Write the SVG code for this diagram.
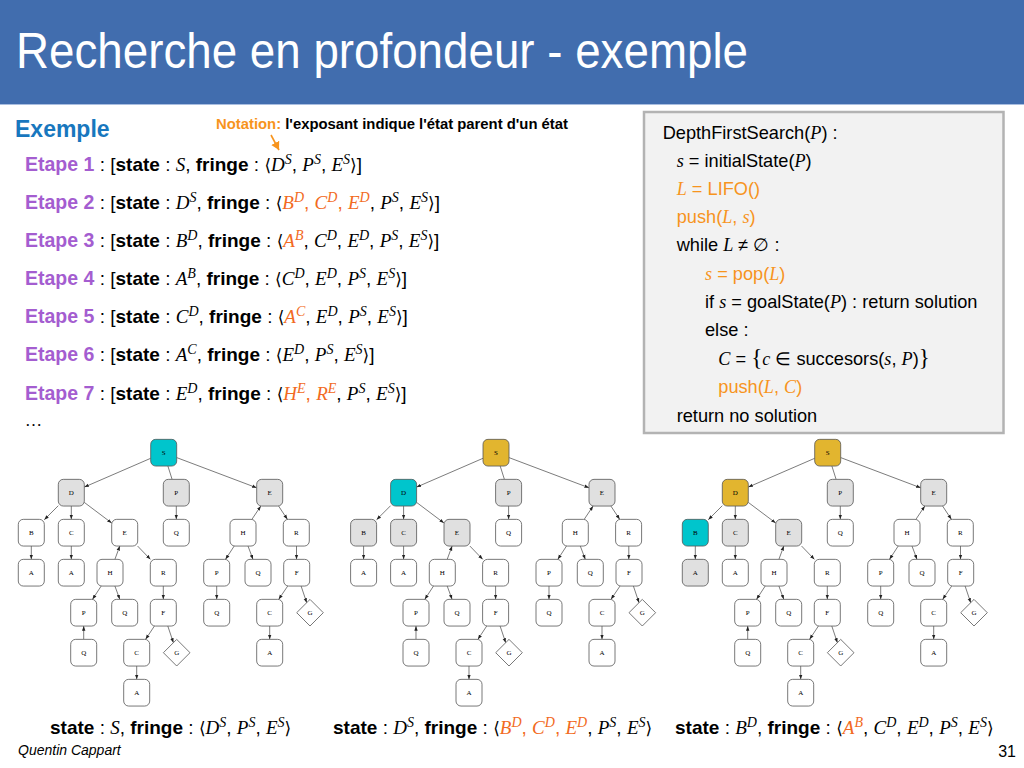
<svg xmlns="http://www.w3.org/2000/svg" xmlns:xlink="http://www.w3.org/1999/xlink" width="1024" height="768" viewBox="0 0 1024 768">
<style>
  text { font-family: "Liberation Sans", Arial, sans-serif; fill: #000; }
  .m { font-family: "Liberation Serif", "DejaVu Serif", serif; font-style: italic; }
  .u { font-family: "Liberation Serif", "DejaVu Serif", serif; }
  .br { font-family: "DejaVu Serif", serif; font-size: 17px; }
  .b { font-weight: bold; }
  .sup { font-family: "Liberation Serif", serif; font-style: italic; font-size: 14px; }
  .et { fill: #A45DD0; font-weight: bold; font-size: 19.5px; }
  .or { fill: #F26A22; }
  .og { fill: #F7941D; }
  .ln { font-size: 19px; }
  .code { font-size: 18.2px; }
  .nd rect, .nd path { stroke: #555; stroke-width: 0.8; fill: #fff; }
  .nd text { font-family: "Liberation Serif", serif; font-size: 7px; text-anchor: middle; }
  .gr rect { fill: #E0E0E0; }
  .cy rect { fill: #00C5CC; }
  .au rect { fill: #E2B52F; }
  .edges line { stroke: #444; stroke-width: 0.7; }
  .edges line.a { marker-end: url(#ah); }
</style>
<defs>
  <marker id="ah" markerUnits="userSpaceOnUse" markerWidth="6" markerHeight="6" viewBox="0 0 6 6" refX="4.6" refY="3" orient="auto">
    <path d="M0,1.3 L4.6,3 L0,4.7 Z" fill="#222"/>
  </marker>
  <marker id="oh" markerUnits="userSpaceOnUse" markerWidth="12" markerHeight="12" viewBox="0 0 12 12" refX="8" refY="6" orient="auto">
    <path d="M0,1.5 L8,6 L0,10.5 Z" fill="#F7941D"/>
  </marker>
</defs>

<rect width="1024" height="768" fill="#fff"/>

<!-- title band -->
<rect x="0" y="0" width="1024" height="104" fill="#416DAE"/>
<line x1="0" y1="104.5" x2="1024" y2="104.5" stroke="#A9BEE0" stroke-width="1"/>
<text x="16" y="68" font-size="50" style="fill:#fff" textLength="732" lengthAdjust="spacingAndGlyphs">Recherche en profondeur - exemple</text>

<!-- example heading and notation -->
<text x="15" y="137" font-size="23" class="b" style="fill:#1877BE">Exemple</text>
<text x="216" y="129" font-size="14" class="b" textLength="352" lengthAdjust="spacingAndGlyphs"><tspan class="og">Notation:</tspan> l'exposant indique l'état parent d'un état</text>
<line x1="271" y1="135" x2="279" y2="150" stroke="#F7941D" stroke-width="1.6" marker-end="url(#oh)"/>

<!-- steps -->
<text x="25" y="171" class="ln"><tspan class="et">Etape 1</tspan> : [<tspan class="b">state</tspan> : <tspan class="m">S</tspan>, <tspan class="b">fringe</tspan> : <tspan class="br">⟨</tspan><tspan class="m">D</tspan><tspan class="sup" dy="-7">S</tspan><tspan dy="7">, </tspan><tspan class="m">P</tspan><tspan class="sup" dy="-7">S</tspan><tspan dy="7">, </tspan><tspan class="m">E</tspan><tspan class="sup" dy="-7">S</tspan><tspan class="br" dy="7">⟩</tspan>]</text>

<text x="25" y="209" class="ln"><tspan class="et">Etape 2</tspan> : [<tspan class="b">state</tspan> : <tspan class="m">D</tspan><tspan class="sup" dy="-7">S</tspan><tspan dy="7">, </tspan><tspan class="b">fringe</tspan> : <tspan class="br">⟨</tspan><tspan class="m or">B</tspan><tspan class="sup or" dy="-7">D</tspan><tspan class="or" dy="7">, </tspan><tspan class="m or">C</tspan><tspan class="sup or" dy="-7">D</tspan><tspan class="or" dy="7">, </tspan><tspan class="m or">E</tspan><tspan class="sup or" dy="-7">D</tspan><tspan dy="7">, </tspan><tspan class="m">P</tspan><tspan class="sup" dy="-7">S</tspan><tspan dy="7">, </tspan><tspan class="m">E</tspan><tspan class="sup" dy="-7">S</tspan><tspan class="br" dy="7">⟩</tspan>]</text>

<text x="25" y="247" class="ln"><tspan class="et">Etape 3</tspan> : [<tspan class="b">state</tspan> : <tspan class="m">B</tspan><tspan class="sup" dy="-7">D</tspan><tspan dy="7">, </tspan><tspan class="b">fringe</tspan> : <tspan class="br">⟨</tspan><tspan class="m or">A</tspan><tspan class="sup or" dy="-7">B</tspan><tspan dy="7">, </tspan><tspan class="m">C</tspan><tspan class="sup" dy="-7">D</tspan><tspan dy="7">, </tspan><tspan class="m">E</tspan><tspan class="sup" dy="-7">D</tspan><tspan dy="7">, </tspan><tspan class="m">P</tspan><tspan class="sup" dy="-7">S</tspan><tspan dy="7">, </tspan><tspan class="m">E</tspan><tspan class="sup" dy="-7">S</tspan><tspan class="br" dy="7">⟩</tspan>]</text>

<text x="25" y="285" class="ln"><tspan class="et">Etape 4</tspan> : [<tspan class="b">state</tspan> : <tspan class="m">A</tspan><tspan class="sup" dy="-7">B</tspan><tspan dy="7">, </tspan><tspan class="b">fringe</tspan> : <tspan class="br">⟨</tspan><tspan class="m">C</tspan><tspan class="sup" dy="-7">D</tspan><tspan dy="7">, </tspan><tspan class="m">E</tspan><tspan class="sup" dy="-7">D</tspan><tspan dy="7">, </tspan><tspan class="m">P</tspan><tspan class="sup" dy="-7">S</tspan><tspan dy="7">, </tspan><tspan class="m">E</tspan><tspan class="sup" dy="-7">S</tspan><tspan class="br" dy="7">⟩</tspan>]</text>

<text x="25" y="323" class="ln"><tspan class="et">Etape 5</tspan> : [<tspan class="b">state</tspan> : <tspan class="m">C</tspan><tspan class="sup" dy="-7">D</tspan><tspan dy="7">, </tspan><tspan class="b">fringe</tspan> : <tspan class="br">⟨</tspan><tspan class="m or">A</tspan><tspan class="sup or" dy="-7">C</tspan><tspan dy="7">, </tspan><tspan class="m">E</tspan><tspan class="sup" dy="-7">D</tspan><tspan dy="7">, </tspan><tspan class="m">P</tspan><tspan class="sup" dy="-7">S</tspan><tspan dy="7">, </tspan><tspan class="m">E</tspan><tspan class="sup" dy="-7">S</tspan><tspan class="br" dy="7">⟩</tspan>]</text>

<text x="25" y="361" class="ln"><tspan class="et">Etape 6</tspan> : [<tspan class="b">state</tspan> : <tspan class="m">A</tspan><tspan class="sup" dy="-7">C</tspan><tspan dy="7">, </tspan><tspan class="b">fringe</tspan> : <tspan class="br">⟨</tspan><tspan class="m">E</tspan><tspan class="sup" dy="-7">D</tspan><tspan dy="7">, </tspan><tspan class="m">P</tspan><tspan class="sup" dy="-7">S</tspan><tspan dy="7">, </tspan><tspan class="m">E</tspan><tspan class="sup" dy="-7">S</tspan><tspan class="br" dy="7">⟩</tspan>]</text>

<text x="25" y="400" class="ln"><tspan class="et">Etape 7</tspan> : [<tspan class="b">state</tspan> : <tspan class="m">E</tspan><tspan class="sup" dy="-7">D</tspan><tspan dy="7">, </tspan><tspan class="b">fringe</tspan> : <tspan class="br">⟨</tspan><tspan class="m or">H</tspan><tspan class="sup or" dy="-7">E</tspan><tspan class="or" dy="7">, </tspan><tspan class="m or">R</tspan><tspan class="sup or" dy="-7">E</tspan><tspan dy="7">, </tspan><tspan class="m">P</tspan><tspan class="sup" dy="-7">S</tspan><tspan dy="7">, </tspan><tspan class="m">E</tspan><tspan class="sup" dy="-7">S</tspan><tspan class="br" dy="7">⟩</tspan>]</text>

<text x="25" y="426" font-size="17" class="u">…</text>

<!-- pseudocode box -->
<rect x="644" y="112" width="359.5" height="321" fill="#F2F2F2" stroke="#B3B3B3" stroke-width="2.5"/>
<g class="code">
  <text x="662.7" y="138.7" class="code">DepthFirstSearch(<tspan class="m">P</tspan>) :</text>
  <text x="676.7" y="167.3" class="code"><tspan class="m">s</tspan> = initialState(<tspan class="m">P</tspan>)</text>
  <text x="676.7" y="195.3" class="code og"><tspan class="m og">L</tspan> = LIFO()</text>
  <text x="676.7" y="223.3" class="code og">push(<tspan class="m og">L</tspan>, <tspan class="m og">s</tspan>)</text>
  <text x="676.7" y="251.3" class="code">while <tspan class="m">L</tspan> ≠ ∅ :</text>
  <text x="705" y="279.7" class="code og"><tspan class="m og">s</tspan> = pop(<tspan class="m og">L</tspan>)</text>
  <text x="705" y="308" class="code">if <tspan class="m">s</tspan> = goalState(<tspan class="m">P</tspan>) : return solution</text>
  <text x="705" y="336.3" class="code">else :</text>
  <text x="718.3" y="364.7" class="code"><tspan class="m">C</tspan> = <tspan class="u" font-size="23">{</tspan><tspan class="m">c</tspan> ∈ succesors(<tspan class="m">s</tspan>, <tspan class="m">P</tspan>)<tspan class="u" font-size="23">}</tspan></text>
  <text x="718.3" y="393" class="code og">push(<tspan class="m og">L</tspan>, <tspan class="m og">C</tspan>)</text>
  <text x="676.7" y="422" class="code">return no solution</text>
</g>

<!-- connectors of the three search trees -->
<g id="connectors">
  <g id="edges-t1" class="edges">
    <line class="a" x1="150.7" y1="458.3" x2="84.3" y2="487.1"/>
    <line x1="167.9" y1="466.05" x2="172.1" y2="479.35"/>
    <line class="a" x1="176.7" y1="457.6" x2="256.7" y2="487.8"/>
    <line class="a" x1="58.3" y1="505.7" x2="44.3" y2="519.7"/>
    <line class="a" x1="71.3" y1="506.05" x2="71.3" y2="519.35"/>
    <line class="a" x1="84.3" y1="502.4" x2="111.7" y2="523"/>
    <line class="a" x1="176.3" y1="506.05" x2="176.3" y2="519.35"/>
    <line class="a" x1="251.9" y1="519.35" x2="260.8" y2="506.05"/>
    <line class="a" x1="278.6" y1="506.05" x2="287.4" y2="519.35"/>
    <line class="a" x1="31.3" y1="546.05" x2="31.3" y2="559.35"/>
    <line class="a" x1="71.3" y1="546.05" x2="71.3" y2="559.35"/>
    <line class="a" x1="114.9" y1="559.35" x2="119.8" y2="546.05"/>
    <line class="a" x1="137.6" y1="546.05" x2="150.4" y2="559.35"/>
    <line class="a" x1="234.2" y1="546.05" x2="225.5" y2="559.35"/>
    <line class="a" x1="248" y1="546.05" x2="253" y2="559.35"/>
    <line class="a" x1="296.5" y1="546.05" x2="296.5" y2="559.35"/>
    <line class="a" x1="101.2" y1="586.05" x2="92.5" y2="599.35"/>
    <line class="a" x1="114.9" y1="586.05" x2="119.8" y2="599.35"/>
    <line class="a" x1="163.3" y1="586.05" x2="163.3" y2="599.35"/>
    <line class="a" x1="216.7" y1="586.05" x2="216.7" y2="599.35"/>
    <line class="a" x1="287.7" y1="586.05" x2="278.7" y2="599.35"/>
    <line class="a" x1="301.1" y1="586.05" x2="306.7" y2="602.7"/>
    <line class="a" x1="83.7" y1="639.35" x2="83.7" y2="626.05"/>
    <line class="a" x1="154.4" y1="626.05" x2="145.6" y2="639.35"/>
    <line class="a" x1="167.8" y1="626.05" x2="173.4" y2="642.7"/>
    <line class="a" x1="269.7" y1="626.05" x2="269.7" y2="639.35"/>
    <line class="a" x1="136.7" y1="666.05" x2="136.7" y2="679.35"/>
  </g>
  <use xlink:href="#edges-t1" href="#edges-t1" transform="translate(332.3 0)"/>
  <use xlink:href="#edges-t1" href="#edges-t1" transform="translate(664 0)"/>
</g>

<!-- tree 1 : S being expanded -->
<g id="tree1">
  <g id="t1-S" class="nd cy" transform="translate(163.7 452.7)"><rect x="-13" y="-13.35" width="26" height="26.7" rx="5"/><text y="2.5">S</text></g>
  <g id="t1-D" class="nd gr" transform="translate(71.3 492.7)"><rect x="-13" y="-13.35" width="26" height="26.7" rx="5"/><text y="2.5">D</text></g>
  <g id="t1-P" class="nd gr" transform="translate(176.3 492.7)"><rect x="-13" y="-13.35" width="26" height="26.7" rx="5"/><text y="2.5">P</text></g>
  <g id="t1-E" class="nd gr" transform="translate(269.7 492.7)"><rect x="-13" y="-13.35" width="26" height="26.7" rx="5"/><text y="2.5">E</text></g>
  <g id="t1-DB" class="nd" transform="translate(31.3 532.7)"><rect x="-13" y="-13.35" width="26" height="26.7" rx="5"/><text y="2.5">B</text></g>
  <g id="t1-DC" class="nd" transform="translate(71.3 532.7)"><rect x="-13" y="-13.35" width="26" height="26.7" rx="5"/><text y="2.5">C</text></g>
  <g id="t1-DE" class="nd" transform="translate(124.7 532.7)"><rect x="-13" y="-13.35" width="26" height="26.7" rx="5"/><text y="2.5">E</text></g>
  <g id="t1-PQ" class="nd" transform="translate(176.3 532.7)"><rect x="-13" y="-13.35" width="26" height="26.7" rx="5"/><text y="2.5">Q</text></g>
  <g id="t1-EH" class="nd" transform="translate(243 532.7)"><rect x="-13" y="-13.35" width="26" height="26.7" rx="5"/><text y="2.5">H</text></g>
  <g id="t1-ER" class="nd" transform="translate(296.3 532.7)"><rect x="-13" y="-13.35" width="26" height="26.7" rx="5"/><text y="2.5">R</text></g>
  <g id="t1-DBA" class="nd" transform="translate(31.3 572.7)"><rect x="-13" y="-13.35" width="26" height="26.7" rx="5"/><text y="2.5">A</text></g>
  <g id="t1-DCA" class="nd" transform="translate(71.3 572.7)"><rect x="-13" y="-13.35" width="26" height="26.7" rx="5"/><text y="2.5">A</text></g>
  <g id="t1-DEH" class="nd" transform="translate(110 572.7)"><rect x="-13" y="-13.35" width="26" height="26.7" rx="5"/><text y="2.5">H</text></g>
  <g id="t1-DER" class="nd" transform="translate(163.3 572.7)"><rect x="-13" y="-13.35" width="26" height="26.7" rx="5"/><text y="2.5">R</text></g>
  <g id="t1-EHP" class="nd" transform="translate(216.7 572.7)"><rect x="-13" y="-13.35" width="26" height="26.7" rx="5"/><text y="2.5">P</text></g>
  <g id="t1-EHQ" class="nd" transform="translate(258 572.7)"><rect x="-13" y="-13.35" width="26" height="26.7" rx="5"/><text y="2.5">Q</text></g>
  <g id="t1-ERF" class="nd" transform="translate(296.7 572.7)"><rect x="-13" y="-13.35" width="26" height="26.7" rx="5"/><text y="2.5">F</text></g>
  <g id="t1-DEHP" class="nd" transform="translate(83.7 612.7)"><rect x="-13" y="-13.35" width="26" height="26.7" rx="5"/><text y="2.5">P</text></g>
  <g id="t1-DEHQ" class="nd" transform="translate(124.7 612.7)"><rect x="-13" y="-13.35" width="26" height="26.7" rx="5"/><text y="2.5">Q</text></g>
  <g id="t1-DERF" class="nd" transform="translate(163.3 612.7)"><rect x="-13" y="-13.35" width="26" height="26.7" rx="5"/><text y="2.5">F</text></g>
  <g id="t1-EHPQ" class="nd" transform="translate(216.7 612.7)"><rect x="-13" y="-13.35" width="26" height="26.7" rx="5"/><text y="2.5">Q</text></g>
  <g id="t1-ERFC" class="nd" transform="translate(269.7 612.7)"><rect x="-13" y="-13.35" width="26" height="26.7" rx="5"/><text y="2.5">C</text></g>
  <g id="t1-ERFG" class="nd" transform="translate(310 612.7)"><path d="M0,-13.3 L13.3,0 L0,13.3 L-13.3,0 Z"/><text y="2.5">G</text></g>
  <g id="t1-DEHPQ" class="nd" transform="translate(83.7 652.7)"><rect x="-13" y="-13.35" width="26" height="26.7" rx="5"/><text y="2.5">Q</text></g>
  <g id="t1-DERFC" class="nd" transform="translate(136.7 652.7)"><rect x="-13" y="-13.35" width="26" height="26.7" rx="5"/><text y="2.5">C</text></g>
  <g id="t1-DERFG" class="nd" transform="translate(176.7 652.7)"><path d="M0,-13.3 L13.3,0 L0,13.3 L-13.3,0 Z"/><text y="2.5">G</text></g>
  <g id="t1-ERFCA" class="nd" transform="translate(269.7 652.7)"><rect x="-13" y="-13.35" width="26" height="26.7" rx="5"/><text y="2.5">A</text></g>
  <g id="t1-DERFCA" class="nd" transform="translate(136.7 692.7)"><rect x="-13" y="-13.35" width="26" height="26.7" rx="5"/><text y="2.5">A</text></g>
</g>

<!-- tree 2 : D being expanded -->
<g id="tree2" transform="translate(332.3 0)">
  <g id="t2-S" class="nd au" transform="translate(163.7 452.7)"><rect x="-13" y="-13.35" width="26" height="26.7" rx="5"/><text y="2.5">S</text></g>
  <g id="t2-D" class="nd cy" transform="translate(71.3 492.7)"><rect x="-13" y="-13.35" width="26" height="26.7" rx="5"/><text y="2.5">D</text></g>
  <g id="t2-P" class="nd gr" transform="translate(176.3 492.7)"><rect x="-13" y="-13.35" width="26" height="26.7" rx="5"/><text y="2.5">P</text></g>
  <g id="t2-E" class="nd gr" transform="translate(269.7 492.7)"><rect x="-13" y="-13.35" width="26" height="26.7" rx="5"/><text y="2.5">E</text></g>
  <g id="t2-DB" class="nd gr" transform="translate(31.3 532.7)"><rect x="-13" y="-13.35" width="26" height="26.7" rx="5"/><text y="2.5">B</text></g>
  <g id="t2-DC" class="nd gr" transform="translate(71.3 532.7)"><rect x="-13" y="-13.35" width="26" height="26.7" rx="5"/><text y="2.5">C</text></g>
  <g id="t2-DE" class="nd gr" transform="translate(124.7 532.7)"><rect x="-13" y="-13.35" width="26" height="26.7" rx="5"/><text y="2.5">E</text></g>
  <g id="t2-PQ" class="nd" transform="translate(176.3 532.7)"><rect x="-13" y="-13.35" width="26" height="26.7" rx="5"/><text y="2.5">Q</text></g>
  <g id="t2-EH" class="nd" transform="translate(243 532.7)"><rect x="-13" y="-13.35" width="26" height="26.7" rx="5"/><text y="2.5">H</text></g>
  <g id="t2-ER" class="nd" transform="translate(296.3 532.7)"><rect x="-13" y="-13.35" width="26" height="26.7" rx="5"/><text y="2.5">R</text></g>
  <g id="t2-DBA" class="nd" transform="translate(31.3 572.7)"><rect x="-13" y="-13.35" width="26" height="26.7" rx="5"/><text y="2.5">A</text></g>
  <g id="t2-DCA" class="nd" transform="translate(71.3 572.7)"><rect x="-13" y="-13.35" width="26" height="26.7" rx="5"/><text y="2.5">A</text></g>
  <g id="t2-DEH" class="nd" transform="translate(110 572.7)"><rect x="-13" y="-13.35" width="26" height="26.7" rx="5"/><text y="2.5">H</text></g>
  <g id="t2-DER" class="nd" transform="translate(163.3 572.7)"><rect x="-13" y="-13.35" width="26" height="26.7" rx="5"/><text y="2.5">R</text></g>
  <g id="t2-EHP" class="nd" transform="translate(216.7 572.7)"><rect x="-13" y="-13.35" width="26" height="26.7" rx="5"/><text y="2.5">P</text></g>
  <g id="t2-EHQ" class="nd" transform="translate(258 572.7)"><rect x="-13" y="-13.35" width="26" height="26.7" rx="5"/><text y="2.5">Q</text></g>
  <g id="t2-ERF" class="nd" transform="translate(296.7 572.7)"><rect x="-13" y="-13.35" width="26" height="26.7" rx="5"/><text y="2.5">F</text></g>
  <g id="t2-DEHP" class="nd" transform="translate(83.7 612.7)"><rect x="-13" y="-13.35" width="26" height="26.7" rx="5"/><text y="2.5">P</text></g>
  <g id="t2-DEHQ" class="nd" transform="translate(124.7 612.7)"><rect x="-13" y="-13.35" width="26" height="26.7" rx="5"/><text y="2.5">Q</text></g>
  <g id="t2-DERF" class="nd" transform="translate(163.3 612.7)"><rect x="-13" y="-13.35" width="26" height="26.7" rx="5"/><text y="2.5">F</text></g>
  <g id="t2-EHPQ" class="nd" transform="translate(216.7 612.7)"><rect x="-13" y="-13.35" width="26" height="26.7" rx="5"/><text y="2.5">Q</text></g>
  <g id="t2-ERFC" class="nd" transform="translate(269.7 612.7)"><rect x="-13" y="-13.35" width="26" height="26.7" rx="5"/><text y="2.5">C</text></g>
  <g id="t2-ERFG" class="nd" transform="translate(310 612.7)"><path d="M0,-13.3 L13.3,0 L0,13.3 L-13.3,0 Z"/><text y="2.5">G</text></g>
  <g id="t2-DEHPQ" class="nd" transform="translate(83.7 652.7)"><rect x="-13" y="-13.35" width="26" height="26.7" rx="5"/><text y="2.5">Q</text></g>
  <g id="t2-DERFC" class="nd" transform="translate(136.7 652.7)"><rect x="-13" y="-13.35" width="26" height="26.7" rx="5"/><text y="2.5">C</text></g>
  <g id="t2-DERFG" class="nd" transform="translate(176.7 652.7)"><path d="M0,-13.3 L13.3,0 L0,13.3 L-13.3,0 Z"/><text y="2.5">G</text></g>
  <g id="t2-ERFCA" class="nd" transform="translate(269.7 652.7)"><rect x="-13" y="-13.35" width="26" height="26.7" rx="5"/><text y="2.5">A</text></g>
  <g id="t2-DERFCA" class="nd" transform="translate(136.7 692.7)"><rect x="-13" y="-13.35" width="26" height="26.7" rx="5"/><text y="2.5">A</text></g>
</g>

<!-- tree 3 : B being expanded -->
<g id="tree3" transform="translate(664 0)">
  <g id="t3-S" class="nd au" transform="translate(163.7 452.7)"><rect x="-13" y="-13.35" width="26" height="26.7" rx="5"/><text y="2.5">S</text></g>
  <g id="t3-D" class="nd au" transform="translate(71.3 492.7)"><rect x="-13" y="-13.35" width="26" height="26.7" rx="5"/><text y="2.5">D</text></g>
  <g id="t3-P" class="nd gr" transform="translate(176.3 492.7)"><rect x="-13" y="-13.35" width="26" height="26.7" rx="5"/><text y="2.5">P</text></g>
  <g id="t3-E" class="nd gr" transform="translate(269.7 492.7)"><rect x="-13" y="-13.35" width="26" height="26.7" rx="5"/><text y="2.5">E</text></g>
  <g id="t3-DB" class="nd cy" transform="translate(31.3 532.7)"><rect x="-13" y="-13.35" width="26" height="26.7" rx="5"/><text y="2.5">B</text></g>
  <g id="t3-DC" class="nd gr" transform="translate(71.3 532.7)"><rect x="-13" y="-13.35" width="26" height="26.7" rx="5"/><text y="2.5">C</text></g>
  <g id="t3-DE" class="nd gr" transform="translate(124.7 532.7)"><rect x="-13" y="-13.35" width="26" height="26.7" rx="5"/><text y="2.5">E</text></g>
  <g id="t3-PQ" class="nd" transform="translate(176.3 532.7)"><rect x="-13" y="-13.35" width="26" height="26.7" rx="5"/><text y="2.5">Q</text></g>
  <g id="t3-EH" class="nd" transform="translate(243 532.7)"><rect x="-13" y="-13.35" width="26" height="26.7" rx="5"/><text y="2.5">H</text></g>
  <g id="t3-ER" class="nd" transform="translate(296.3 532.7)"><rect x="-13" y="-13.35" width="26" height="26.7" rx="5"/><text y="2.5">R</text></g>
  <g id="t3-DBA" class="nd gr" transform="translate(31.3 572.7)"><rect x="-13" y="-13.35" width="26" height="26.7" rx="5"/><text y="2.5">A</text></g>
  <g id="t3-DCA" class="nd" transform="translate(71.3 572.7)"><rect x="-13" y="-13.35" width="26" height="26.7" rx="5"/><text y="2.5">A</text></g>
  <g id="t3-DEH" class="nd" transform="translate(110 572.7)"><rect x="-13" y="-13.35" width="26" height="26.7" rx="5"/><text y="2.5">H</text></g>
  <g id="t3-DER" class="nd" transform="translate(163.3 572.7)"><rect x="-13" y="-13.35" width="26" height="26.7" rx="5"/><text y="2.5">R</text></g>
  <g id="t3-EHP" class="nd" transform="translate(216.7 572.7)"><rect x="-13" y="-13.35" width="26" height="26.7" rx="5"/><text y="2.5">P</text></g>
  <g id="t3-EHQ" class="nd" transform="translate(258 572.7)"><rect x="-13" y="-13.35" width="26" height="26.7" rx="5"/><text y="2.5">Q</text></g>
  <g id="t3-ERF" class="nd" transform="translate(296.7 572.7)"><rect x="-13" y="-13.35" width="26" height="26.7" rx="5"/><text y="2.5">F</text></g>
  <g id="t3-DEHP" class="nd" transform="translate(83.7 612.7)"><rect x="-13" y="-13.35" width="26" height="26.7" rx="5"/><text y="2.5">P</text></g>
  <g id="t3-DEHQ" class="nd" transform="translate(124.7 612.7)"><rect x="-13" y="-13.35" width="26" height="26.7" rx="5"/><text y="2.5">Q</text></g>
  <g id="t3-DERF" class="nd" transform="translate(163.3 612.7)"><rect x="-13" y="-13.35" width="26" height="26.7" rx="5"/><text y="2.5">F</text></g>
  <g id="t3-EHPQ" class="nd" transform="translate(216.7 612.7)"><rect x="-13" y="-13.35" width="26" height="26.7" rx="5"/><text y="2.5">Q</text></g>
  <g id="t3-ERFC" class="nd" transform="translate(269.7 612.7)"><rect x="-13" y="-13.35" width="26" height="26.7" rx="5"/><text y="2.5">C</text></g>
  <g id="t3-ERFG" class="nd" transform="translate(310 612.7)"><path d="M0,-13.3 L13.3,0 L0,13.3 L-13.3,0 Z"/><text y="2.5">G</text></g>
  <g id="t3-DEHPQ" class="nd" transform="translate(83.7 652.7)"><rect x="-13" y="-13.35" width="26" height="26.7" rx="5"/><text y="2.5">Q</text></g>
  <g id="t3-DERFC" class="nd" transform="translate(136.7 652.7)"><rect x="-13" y="-13.35" width="26" height="26.7" rx="5"/><text y="2.5">C</text></g>
  <g id="t3-DERFG" class="nd" transform="translate(176.7 652.7)"><path d="M0,-13.3 L13.3,0 L0,13.3 L-13.3,0 Z"/><text y="2.5">G</text></g>
  <g id="t3-ERFCA" class="nd" transform="translate(269.7 652.7)"><rect x="-13" y="-13.35" width="26" height="26.7" rx="5"/><text y="2.5">A</text></g>
  <g id="t3-DERFCA" class="nd" transform="translate(136.7 692.7)"><rect x="-13" y="-13.35" width="26" height="26.7" rx="5"/><text y="2.5">A</text></g>
</g>

<!-- captions under the trees -->
<text x="50" y="734" class="ln"><tspan class="b">state</tspan> : <tspan class="m">S</tspan>, <tspan class="b">fringe</tspan> : <tspan class="br">⟨</tspan><tspan class="m">D</tspan><tspan class="sup" dy="-7">S</tspan><tspan dy="7">, </tspan><tspan class="m">P</tspan><tspan class="sup" dy="-7">S</tspan><tspan dy="7">, </tspan><tspan class="m">E</tspan><tspan class="sup" dy="-7">S</tspan><tspan class="br" dy="7">⟩</tspan></text>
<text x="333" y="734" class="ln"><tspan class="b">state</tspan> : <tspan class="m">D</tspan><tspan class="sup" dy="-7">S</tspan><tspan dy="7">, </tspan><tspan class="b">fringe</tspan> : <tspan class="br">⟨</tspan><tspan class="m or">B</tspan><tspan class="sup or" dy="-7">D</tspan><tspan class="or" dy="7">, </tspan><tspan class="m or">C</tspan><tspan class="sup or" dy="-7">D</tspan><tspan class="or" dy="7">, </tspan><tspan class="m or">E</tspan><tspan class="sup or" dy="-7">D</tspan><tspan dy="7">, </tspan><tspan class="m">P</tspan><tspan class="sup" dy="-7">S</tspan><tspan dy="7">, </tspan><tspan class="m">E</tspan><tspan class="sup" dy="-7">S</tspan><tspan class="br" dy="7">⟩</tspan></text>
<text x="675" y="734" class="ln"><tspan class="b">state</tspan> : <tspan class="m">B</tspan><tspan class="sup" dy="-7">D</tspan><tspan dy="7">, </tspan><tspan class="b">fringe</tspan> : <tspan class="br">⟨</tspan><tspan class="m or">A</tspan><tspan class="sup or" dy="-7">B</tspan><tspan dy="7">, </tspan><tspan class="m">C</tspan><tspan class="sup" dy="-7">D</tspan><tspan dy="7">, </tspan><tspan class="m">E</tspan><tspan class="sup" dy="-7">D</tspan><tspan dy="7">, </tspan><tspan class="m">P</tspan><tspan class="sup" dy="-7">S</tspan><tspan dy="7">, </tspan><tspan class="m">E</tspan><tspan class="sup" dy="-7">S</tspan><tspan class="br" dy="7">⟩</tspan></text>

<!-- footer -->
<text x="18" y="755" font-size="14" font-style="italic">Quentin Cappart</text>
<text x="1016" y="757" font-size="16" text-anchor="end">31</text>
</svg>
